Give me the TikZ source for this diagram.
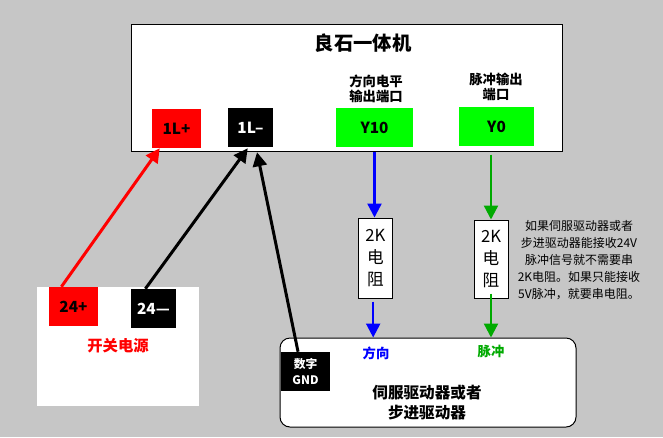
\documentclass[tikz,border=0pt]{standalone}
\usepackage{fontspec}
\setmainfont{Noto Sans CJK SC}
\usetikzlibrary{arrows.meta,positioning,calc}
\definecolor{bggray}{RGB}{198,198,198}
\definecolor{pulsegreen}{RGB}{0,170,0}
\newcommand{\fsize}[1]{\fontsize{#1}{#1}\selectfont}
\tikzset{
block/.style = {draw=black, fill=white, rectangle, line width=0.75pt, inner sep=0pt},
port/.style = {rectangle, inner sep=0pt, font=\fsize{11.5}\bfseries},
redport/.style = {port, fill=red, text=black, minimum width=36.75pt, minimum height=29.25pt},
blackport/.style = {port, fill=black, text=white, minimum width=33.75pt, minimum height=29.25pt},
greenport/.style = {port, fill=green, text=black, minimum height=29.25pt},
resistor/.style = {block, minimum width=25.5pt, minimum height=60pt, align=center, font=\fontsize{12.5}{16.5}\selectfont},
label/.style = {inner sep=0pt, align=center, font=\fontsize{10}{10.8}\selectfont\bfseries},
wire/.style = {->, line width=1.75pt},
slantwire/.style = {->, line width=2.25pt}
}

\begin{document}
\begin{tikzpicture}[x=0.75pt, y=-0.75pt, >={Triangle[length=10.5pt,width=10.5pt]}]
		\fill [bggray] (0,0) rectangle (663,437);
		\useasboundingbox (0,0) rectangle (663,437);

		% controller
		\node [block, minimum width=323pt, minimum height=95pt] (plc) at (347,88) {};
		\node [label, font=\fsize{14.5}\bfseries] (plcname) at (363,43) {良石一体机};
		\node [label] (dirlabel) at (376,89) {方向电平\\输出端口};
		\node [label] (pulselabel) at (496,87) {脉冲输出\\端口};
		\node [redport] (lplus) at (176.5,128.5) {1L+};
		\node [blackport] (lminus) at (250.5,127.5) {1L–};
		\node [greenport, minimum width=57.75pt] (yten) at (374.5,127.5) {Y10};
		\node [greenport, minimum width=56.25pt] (yzero) at (496.5,126.5) {Y0};

		% power supply
		\node [rectangle, fill=white, inner sep=0pt, minimum width=121.5pt, minimum height=89.25pt] (power) at (118,346.5) {};
		\node [redport] (pplus) at (73.5,306.5) {24+};
		\node [blackport] (pminus) at (153.5,308.5) {24—};
		\node [label, text=red, font=\fsize{11.5}\bfseries] (powername) at (118,346) {开关电源};

		% resistors
		\node [resistor] (rdir) at (375.5,258) {2K\\电\\阻};
		\node [resistor, minimum height=58.5pt] (rpulse) at (491,259) {2K\\电\\阻};

		% driver
		\node [block, rounded corners=7.5pt, minimum width=222pt, minimum height=66.75pt] (driver) at (428,382.5) {};
		\node [port, fill=black, text=white, align=center, minimum width=36.75pt, minimum height=29.25pt, font=\fontsize{8.8}{12}\selectfont\bfseries] (gnd) at (305.5,371.5) {数字\\GND};
		\node [label, text=blue] (dirin) at (376,353) {方向};
		\node [label, text=pulsegreen] (pulsein) at (491,351) {脉冲};
		\node [label, font=\fontsize{11.7}{14.4}\selectfont\bfseries] (drivername) at (427,402.5) {伺服驱动器或者\\步进驱动器};

		% note
		\node [inner sep=0pt, align=center, font=\fontsize{9}{12.75}\selectfont] (note) at (579,260) {如果伺服驱动器或者\\步进驱动器能接收24V\\脉冲信号就不需要串\\2K电阻。如果只能接收\\5V脉冲，就要串电阻。};

		% wiring
		\draw [slantwire, red] ([xshift=9.5pt]pplus.north west) -- ([xshift=6pt]lplus.south west);
		\draw [slantwire, black] ([xshift=11pt]pminus.north west) -- ([xshift=15pt,yshift=-0.75pt]lminus.south west);
		\draw [slantwire, black] ([xshift=-5.6pt]gnd.north) -- ([xshift=4.9pt,yshift=-3.75pt]lminus.south);
		\draw [wire, blue] (plc.south -| yten) -- (rdir.north -| yten);
		\draw [wire, pulsegreen] ([yshift=-2pt]plc.south -| rpulse) -- (rpulse.north);
		\draw [wire, blue] ([xshift=-1.75pt,yshift=-2.25pt]rdir.south) -- ([xshift=-1.75pt]driver.north -| rdir);
		\draw [wire, pulsegreen] ([yshift=3.75pt]rpulse.south) -- (driver.north -| rpulse);
\end{tikzpicture}
\end{document}
